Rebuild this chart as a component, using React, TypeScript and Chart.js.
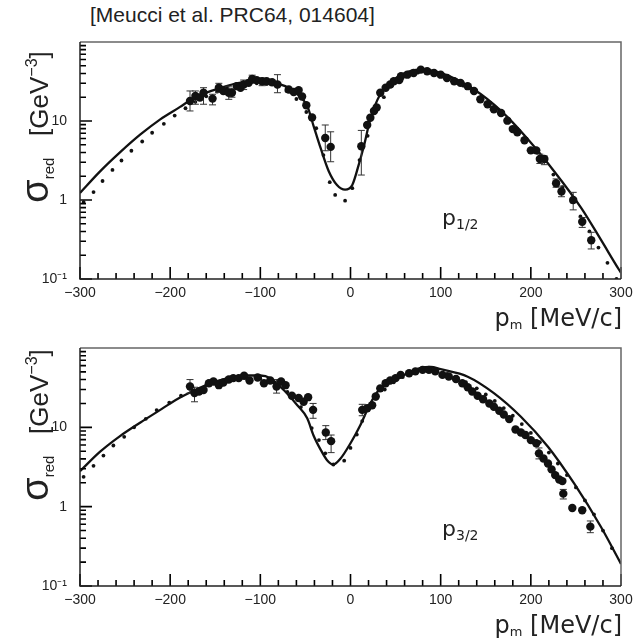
import React, { useEffect, useRef } from 'react';
import { Chart, registerables } from 'chart.js';

Chart.register(...registerables);

// ---------- axes ----------
const xTickValues = [-300, -200, -100, 0, 100, 200, 300];
const yTickValues = [0.1, 1, 10];
const yTickLabels = ['10\u207B\u00B9', '1', '10'];
const xMinorStep = 20;
const yMinorMultipliers = [1, 2, 3, 4, 5, 6, 7, 8, 9];

// ---------- panel p1/2 ----------
const p12SolidX = [-300, -278, -256, -233, -211, -189, -178, -160, -144, -125, -108, -90, -78, -68, -59, -48, -41, -33, -24, -15, -6, 2, 9, 15, 22, 33, 45, 56, 78, 100, 137, 167, 196, 226, 256, 278, 298, 300];
const p12SolidY = [1.23, 2.29, 3.98, 6.76, 10.5, 15.1, 18.2, 22.9, 26.3, 30.2, 31.6, 31, 29, 26, 21.8, 15.5, 8.7, 4.5, 2.3, 1.55, 1.35, 1.55, 2.76, 4.9, 10.6, 21.8, 31, 38.6, 44.7, 40.6, 25, 13.4, 6.0, 2.3, 0.79, 0.31, 0.13, 0.12];

const p12DotX = [-296, -285, -275, -264, -254, -243, -231, -220, -207, -195, -183, -172, -160, -148, -137, -126, -115, -104, -93, -82, -71, -60, -49, -38, -30, -23, -17, -6, 2, 10, 19, 28, 37, 46, 55, 65, 75, 85, 95, 105, 115, 125, 135, 145, 155, 165, 175, 185, 195, 205, 215, 225, 235, 245, 255, 265, 275, 285, 295];
const p12DotY = [0.94, 1.26, 1.74, 2.4, 3.16, 4.2, 5.5, 7.1, 9.2, 11.7, 14.5, 17.5, 20.5, 23.5, 26, 28, 29.5, 30, 29.5, 27.5, 24, 19, 13, 8.1, 3.7, 1.68, 1.16, 0.98, 1.41, 3.2, 6.5, 13, 20, 28, 34, 39, 41, 41, 39, 36, 32, 28, 24.5, 20.5, 17, 13.5, 10.5, 8, 6, 4.3, 3.1, 2.1, 1.45, 0.95, 0.62, 0.4, 0.25, 0.16, 0.1];

const p12ExpX = [-178, -172, -167, -163, -153, -146, -141, -135, -131.5, -126, -122, -118.5, -113, -109, -104, -98, -93, -87, -81, -68.5, -63, -57.5, -53.7, -49, -42.6, -28, -22, 12, 18.5, 22, 26, 29, 33, 39, 44, 48, 54, 56, 63, 70, 78, 85, 92.6, 100, 107, 115, 122, 130, 137, 144, 152, 159, 167, 174, 180, 185, 193, 200, 206, 210, 215, 228, 234, 247, 257, 267];
const p12ExpY = [17.9, 20.7, 19.8, 22.8, 19.2, 26.4, 24, 22.8, 22.8, 27.6, 26.4, 29, 30.4, 34, 32.9, 31.8, 31.8, 31, 29, 25, 23.3, 24.6, 20.4, 15.8, 11.1, 6.1, 4.7, 4.8, 8.9, 11, 13.4, 14.8, 22.8, 26.4, 29, 31.8, 32.9, 36.8, 38.6, 40.6, 44.7, 42.6, 40.6, 38.6, 35, 31.8, 30.4, 27.6, 24, 18.8, 16.3, 14.1, 12.6, 10.1, 7.9, 7.2, 5.7, 4.25, 4.25, 3.3, 3.3, 1.63, 1.28, 1.0, 0.53, 0.31];

const p12ErrX = [-178, -172, -163, -153, -146, -135, -131.5, -118.5, -109, -98, -81, -28, -22, 12, 210, 215, 228, 234, 247, 257, 267];
const p12ErrLo = [13.4, 16.3, 16.3, 16, 23, 18.8, 20, 25, 30, 28, 22.8, 4.2, 3.05, 2.07, 2.9, 2.8, 1.45, 1.1, 0.75, 0.45, 0.24];
const p12ErrHi = [24, 24, 26.4, 21.8, 30, 27.6, 26, 33, 38, 35, 38.6, 8.9, 7.3, 7.6, 3.8, 3.6, 1.85, 1.5, 1.25, 0.6, 0.39];

// ---------- panel p3/2 ----------
const p32SolidX = [-300, -278, -256, -233, -211, -200, -189, -178, -160, -144, -115, -100, -89, -74, -59, -48, -41, -33, -26, -19, -11, 0, 11, 22, 33, 56, 78, 89, 100, 130, 159, 189, 219, 248, 278, 300];
const p32SolidY = [2.8, 4.9, 7.7, 11.5, 16.6, 20, 23.7, 27.5, 34, 39.5, 45, 45, 41.7, 29.5, 19, 13, 7.9, 5.2, 3.86, 3.4, 4.05, 6.3, 10.7, 20, 31, 43.5, 56, 57.6, 54, 43.5, 27, 13.6, 5.7, 1.96, 0.55, 0.19];

const p32DotX = [-296, -285, -274, -263, -251, -240, -227, -215, -201, -188, -175, -160, -145, -130, -115, -100, -85, -70, -55, -43, -35, -28, -19, -7, 0, 7, 13, 20, 28, 38, 48, 58, 70, 82, 95, 107, 118, 128, 140, 150, 160, 170, 180, 190, 200, 210, 220, 230, 240, 250, 260, 270, 280, 290];
const p32DotY = [2.38, 3.27, 4.4, 5.9, 7.6, 10, 12.8, 16.5, 20.5, 25, 29, 34, 38, 41, 42, 41, 37, 28, 18, 9.8, 6.9, 4.7, 3.4, 3.8, 5.5, 8.1, 12, 17, 23, 30, 37, 43, 51, 53, 51, 47, 42, 37, 31, 26, 21.5, 17.5, 14, 11, 8.5, 6.5, 4.8, 3.5, 2.5, 1.75, 1.2, 0.8, 0.5, 0.3];

const p32ExpX = [-178, -173, -168, -163, -157, -152, -146, -141, -135, -130, -124, -118, -112, -103, -96, -89, -82, -77, -72, -65, -57.5, -52, -47, -41.5, -27.4, -21.5, 13, 18.5, 24, 28, 33, 39, 44, 50, 55.6, 65, 72, 80, 87, 94, 102, 109, 117, 124, 130, 135, 141, 147, 154, 159, 165, 170, 176, 183, 189, 194, 200, 206, 209, 214, 219, 223, 227, 231.5, 235, 236, 246, 257, 266];
const p32ExpY = [32.7, 27, 28.3, 29.5, 36, 37.8, 34, 36.8, 40, 41.7, 41.7, 44.6, 38.9, 42.5, 36, 38.9, 32.7, 37.8, 34, 25, 23.4, 21, 24, 16.6, 8.6, 6.7, 16.6, 17.4, 19, 24.5, 31, 36, 38.9, 41.7, 45.8, 48, 50.7, 53, 53, 50.7, 45.8, 43.7, 40.6, 36, 32, 28.3, 25, 22.6, 20, 18.2, 16.2, 14.5, 12.7, 9.4, 8.6, 8, 6.9, 6.3, 4.7, 4.05, 3.5, 2.95, 2.5, 2.2, 2.1, 1.46, 0.96, 0.9, 0.56];

const p32ErrX = [-178, -173, -82, -41.5, -27.4, -21.5, 13, 209, 236, 266];
const p32ErrLo = [27, 21, 27, 13, 7, 4.8, 14, 4.0, 1.25, 0.47];
const p32ErrHi = [40, 32, 40, 20, 10.5, 8, 19.5, 5.5, 1.65, 0.66];

// ---------- helpers ----------
const pts = (xs: number[], ys: number[]) => xs.map((x, i) => ({ x, y: ys[i] }));
const errPts = (xs: number[], lo: number[], hi: number[]) => {
  const out: any[] = [];
  xs.forEach((x, i) => {
    out.push({ x, y: lo[i] });
    out.push({ x, y: hi[i] });
    out.push({ x, y: null });
  });
  return out;
};

const frameTicksPlugin = {
  id: 'frameTicks',
  afterDraw(chart: any) {
    const ctx = chart.ctx;
    const a = chart.chartArea;
    const xs = chart.scales['x'];
    const ys = chart.scales['y'];
    ctx.save();
    ctx.setLineDash([]);
    ctx.strokeStyle = '#000000';
    ctx.lineWidth = 1.6;
    ctx.beginPath();
    const left = a.left;
    const bottom = a.bottom;
    for (let v = -300; v <= 300; v += xMinorStep) {
      const px = xs.getPixelForValue(v);
      const len = v % 100 === 0 ? 12 : 6;
      ctx.moveTo(px, bottom);
      ctx.lineTo(px, bottom - len);
    }
    for (let d = -1; d <= 1; d++) {
      for (const m of yMinorMultipliers) {
        const v = m * Math.pow(10, d);
        const py = ys.getPixelForValue(v);
        const len = m === 1 ? 12 : 6;
        ctx.moveTo(left, py);
        ctx.lineTo(left + len, py);
      }
    }
    ctx.stroke();
    // frame
    ctx.strokeStyle = '#666';
    ctx.lineWidth = 1.5;
    ctx.beginPath();
    ctx.moveTo(a.left, a.top);
    ctx.lineTo(a.right, a.top);
    ctx.lineTo(a.right, a.bottom);
    ctx.stroke();
    ctx.strokeStyle = '#222';
    ctx.lineWidth = 1.5;
    ctx.beginPath();
    ctx.moveTo(a.left, a.top);
    ctx.lineTo(a.left, a.bottom);
    ctx.lineTo(a.right, a.bottom);
    ctx.stroke();
    ctx.restore();
  },
};

function makeConfig(
  solid: any[],
  dots: any[],
  exp: any[],
  errs: any[],
  padTop: number,
  xHeight: number
): any {
  const tickFont = { family: '"Liberation Sans", Arial, sans-serif', size: 14 };
  return {
    type: 'scatter',
    data: {
      datasets: [
        {
          label: 'data',
          data: exp,
          pointRadius: 4.2,
          pointBackgroundColor: '#111',
          pointBorderColor: '#111',
          pointBorderWidth: 0,
          showLine: false,
        },
        {
          label: 'errors',
          data: errs,
          showLine: true,
          spanGaps: false,
          borderColor: '#333',
          borderWidth: 1,
          pointStyle: 'line',
          pointRadius: 3.5,
          pointBorderColor: '#333',
          pointBorderWidth: 1,
        },
        {
          label: 'solid',
          data: solid,
          showLine: true,
          borderColor: '#111',
          borderWidth: 2.3,
          pointRadius: 0,
          cubicInterpolationMode: 'monotone',
          tension: 0.4,
        },
        {
          label: 'dotted',
          data: dots,
          showLine: false,
          pointRadius: 1.9,
          pointBackgroundColor: '#111',
          pointBorderWidth: 0,
        },
      ],
    },
    options: {
      animation: false,
      responsive: false,
      devicePixelRatio: 1,
      events: [],
      layout: { padding: { top: padTop, right: 18, left: 0, bottom: 0 } },
      plugins: { legend: { display: false }, tooltip: { enabled: false }, title: { display: false } },
      scales: {
        x: {
          type: 'linear',
          min: -300,
          max: 300,
          afterBuildTicks: (s: any) => {
            s.ticks = xTickValues.map((v) => ({ value: v }));
          },
          afterFit: (s: any) => {
            s.height = xHeight;
          },
          ticks: {
            autoSkip: false,
            maxRotation: 0,
            padding: 6,
            color: '#222',
            font: tickFont,
            callback: (v: number) => (v < 0 ? '\u2212' + Math.abs(v) : String(v)),
          },
          grid: { display: false, drawTicks: false },
          border: { display: false },
        },
        y: {
          type: 'logarithmic',
          min: 0.1,
          max: 100,
          afterBuildTicks: (s: any) => {
            s.ticks = yTickValues.map((v) => ({ value: v }));
          },
          afterFit: (s: any) => {
            s.width = 80;
          },
          ticks: {
            autoSkip: false,
            padding: 13,
            color: '#222',
            font: tickFont,
            callback: (_v: number, i: number) => yTickLabels[i],
          },
          grid: { display: false, drawTicks: false },
          border: { display: false },
        },
      },
    },
    plugins: [frameTicksPlugin],
  };
}

function Panel(props: { top: number; height: number; config: () => any }) {
  const ref = useRef<HTMLCanvasElement | null>(null);
  useEffect(() => {
    if (!ref.current) return;
    const chart = new Chart(ref.current, props.config());
    return () => chart.destroy();
  }, []);
  return (
    <canvas
      ref={ref}
      width={639}
      height={props.height}
      style={{ position: 'absolute', left: 0, top: props.top, width: 639, height: props.height }}
    />
  );
}

const sansTitle = '"DejaVu Sans", Verdana, sans-serif';
const armFont = '"Liberation Sans", Arial, sans-serif';

function YTitle(props: { cy: number }) {
  return (
    <div
      style={{
        position: 'absolute',
        left: 36,
        top: props.cy,
        transform: 'translate(-50%, -50%) rotate(-90deg)',
        whiteSpace: 'nowrap',
        fontFamily: armFont,
        fontSize: 26,
        color: '#222',
        lineHeight: 1,
      }}
    >
      <span style={{ fontSize: 38 }}>σ</span>
      <span style={{ fontSize: 15, verticalAlign: '-0.35em' }}>red</span>
      <span>{'\u00A0\u00A0\u00A0[GeV'}</span>
      <span style={{ fontSize: 16, verticalAlign: '0.7em' }}>{'\u22123'}</span>
      <span>]</span>
    </div>
  );
}

function XTitle(props: { top: number }) {
  return (
    <div
      style={{
        position: 'absolute',
        right: 17,
        top: props.top,
        whiteSpace: 'nowrap',
        fontFamily: sansTitle,
        fontSize: 24,
        color: '#222',
      }}
    >
      <span>p</span>
      <span style={{ fontSize: 13, verticalAlign: '-0.2em' }}>m</span>
      <span>{' [MeV/c]'}</span>
    </div>
  );
}

function PanelLabel(props: { top: number; sub: string }) {
  return (
    <div
      style={{
        position: 'absolute',
        left: 442,
        top: props.top,
        whiteSpace: 'nowrap',
        fontFamily: sansTitle,
        fontSize: 22,
        color: '#222',
      }}
    >
      <span>p</span>
      <span style={{ fontSize: 14, verticalAlign: '-0.25em' }}>{props.sub}</span>
    </div>
  );
}

export default function App() {
  const cfgTop = () =>
    makeConfig(
      pts(p12SolidX, p12SolidY),
      pts(p12DotX, p12DotY),
      pts(p12ExpX, p12ExpY),
      errPts(p12ErrX, p12ErrLo, p12ErrHi),
      42,
      31
    );
  const cfgBottom = () =>
    makeConfig(
      pts(p32SolidX, p32SolidY),
      pts(p32DotX, p32DotY),
      pts(p32ExpX, p32ExpY),
      errPts(p32ErrX, p32ErrLo, p32ErrHi),
      38,
      56
    );
  return (
    <div
      style={{
        position: 'fixed',
        left: 0,
        top: 0,
        width: 639,
        height: 642,
        background: '#fff',
        overflow: 'hidden',
      }}
    >
      <div
        style={{
          position: 'absolute',
          left: 90,
          top: 3,
          fontFamily: armFont,
          fontSize: 21,
          color: '#222',
          whiteSpace: 'nowrap',
        }}
      >
        [Meucci et al. PRC64, 014604]
      </div>
      <Panel top={0} height={310} config={cfgTop} />
      <Panel top={310} height={332} config={cfgBottom} />
      <YTitle cy={127} />
      <YTitle cy={425} />
      <XTitle top={304} />
      <XTitle top={611} />
      <PanelLabel top={205} sub="1/2" />
      <PanelLabel top={516} sub="3/2" />
    </div>
  );
}
